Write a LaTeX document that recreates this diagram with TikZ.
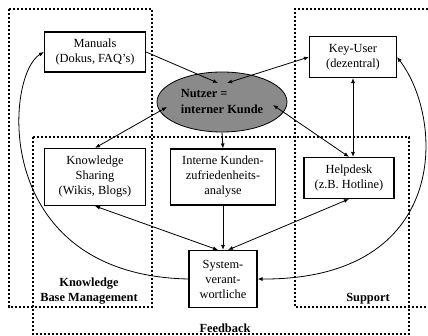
\documentclass[tikz,border=0pt]{standalone}
\usepackage{fontspec}
\setmainfont{Liberation Serif}
\usetikzlibrary{arrows.meta,shapes.geometric}
\definecolor{usergray}{RGB}{138,138,138}

\begin{document}
\begin{tikzpicture}[x=1pt,y=-1pt,>={Latex[length=5pt,width=4pt]}]
% Styles
\tikzstyle{box}=[draw,line width=1.1pt,align=center,inner sep=0pt,font=\fontsize{12.4}{15}\selectfont]
\tikzstyle{frame}=[line width=1.2pt,dash pattern=on 2.2pt off 1.8pt]
\tikzstyle{frame text}=[align=center,font=\bfseries\fontsize{12.4}{15}\selectfont]
\tikzstyle{link}=[line width=0.8pt]

\useasboundingbox (0,0) rectangle (428,336);

% the dashed areas
\draw[frame] (9,9) rectangle (152,307);
\draw[frame] (428,9) -- (295,9) -- (295,307) -- (428,307);
\draw[frame] (33,137) rectangle (409,334);

% draw the nodes
\node[box,minimum width=101pt,minimum height=40pt] (manuals) at (95,52) {Manuals\\(Dokus, FAQ's)};
\node[box,minimum width=87pt,minimum height=41pt] (keyuser) at (353,57) {Key-User\\(dezentral)};
\node[draw,ellipse,fill=usergray,line width=0.8pt,minimum width=130pt,minimum height=60pt,
  align=left,inner sep=0pt,font=\bfseries\fontsize{12.4}{16}\selectfont] (nutzer) at (222,102) {Nutzer =\\interner Kunde};
\node[box,minimum width=101pt,minimum height=57pt] (ks) at (95,177) {Knowledge\\Sharing\\(Wikis, Blogs)};
\node[box,minimum width=105pt,minimum height=56pt] (interne) at (223,177) {Interne Kunden-\\zufriedenheits-\\analyse};
\node[box,minimum width=90pt,minimum height=41pt] (helpdesk) at (349,178) {Helpdesk\\(z.B. Hotline)};
\node[box,minimum width=68pt,minimum height=57pt] (system) at (223,279) {System-\\verant-\\wortliche};

% labels of the areas
\node[frame text] (kbm) at (89,291) {Knowledge\\Base Management};
\node[frame text] (support) at (368,299) {Support};
\node[frame text] (feedback) at (225,328) {Feedback};

% lines into the ellipse
\draw[link,->] (manuals.east) -- ([shift={(-4,-19)}]nutzer.center);
\foreach \from / \dx / \dy in {keyuser.west/5/-19, ks.north/-55/5, helpdesk.north/51/3} {
\draw[link,<->] (\from) -- ([shift={(\dx,\dy)}]nutzer.center);
}

% vertical lines
\draw[link,->] (nutzer.south) -- (interne.north);
\draw[link,->] (interne.south) -- (system.north);
\draw[link,<->] (keyuser.south) -- (keyuser.south |- helpdesk.north);

% lines into the system box
\draw[link,<->] (ks.south) -- ([xshift=-5pt]system.north);
\draw[link,<->] (helpdesk.south) -- ([xshift=5pt]system.north);
\draw[link,->] (system.west) .. controls (-10,275) and (5,75) .. (manuals.west);
\draw[link,<->] (keyuser.east) .. controls (445,120) and (450,280) .. (system.east);

\end{tikzpicture}
\end{document}
